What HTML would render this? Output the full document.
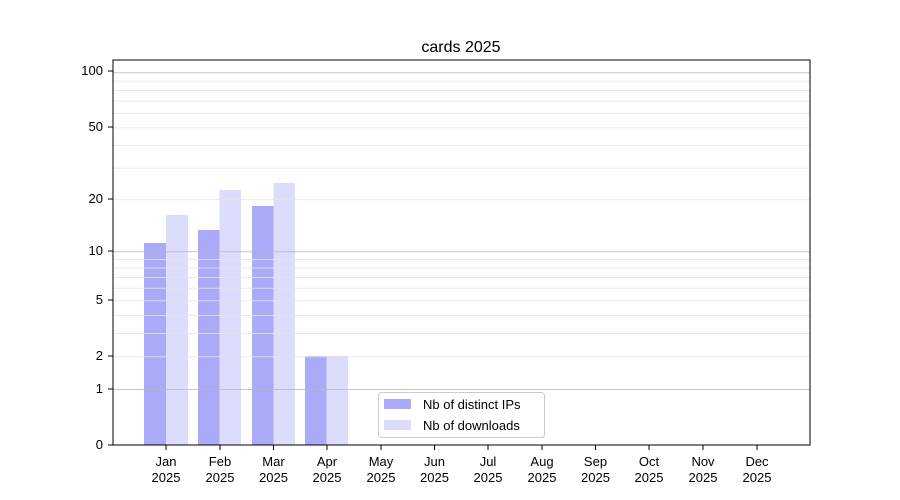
<!DOCTYPE html>
<html><head><style>body{margin:0;background:#fff}svg{display:block;font-family:"Liberation Sans","DejaVu Sans",sans-serif}</style></head><body>
<svg id="s" width="900" height="500" xmlns="http://www.w3.org/2000/svg">
<rect width="900" height="500" fill="#fff"/>
<g fill="#aaaaf9">
<rect x="144" y="243" width="22" height="202"/>
<rect x="198" y="230" width="21.5" height="215"/>
<rect x="252" y="206" width="21.5" height="239"/>
<rect x="305" y="356" width="21.5" height="89"/>
</g>
<g fill="#dcdcfd">
<rect x="166" y="215" width="22" height="230"/>
<rect x="219.5" y="190" width="21.5" height="255"/>
<rect x="273.5" y="183" width="21.5" height="262"/>
<rect x="326.5" y="356" width="21.5" height="89"/>
</g>
<g id="grid" opacity="0.8"></g>
<rect x="113" y="60" width="697" height="385" fill="none" stroke="#000" stroke-width="1"/>
<text x="461" y="52" font-size="16" text-anchor="middle">cards 2025</text>
<g font-size="13" text-anchor="end">
<text x="103" y="449">0</text><text x="103" y="393">1</text><text x="103" y="360">2</text>
<text x="103" y="304">5</text><text x="103" y="255">10</text><text x="103" y="203">20</text>
<text x="103" y="131">50</text><text x="103" y="75">100</text>
</g>
<g stroke="#000"><line x1="108" x2="113" y1="445" y2="445"/><line x1="108" x2="113" y1="389" y2="389"/><line x1="108" x2="113" y1="356" y2="356"/><line x1="108" x2="113" y1="300" y2="300"/><line x1="108" x2="113" y1="251" y2="251"/><line x1="108" x2="113" y1="199" y2="199"/><line x1="108" x2="113" y1="127" y2="127"/><line x1="108" x2="113" y1="71" y2="71"/></g>
<g id="xt" font-size="13" text-anchor="middle">
<text x="166" y="466">Jan</text><text x="166" y="482">2025</text>
<text x="220" y="466">Feb</text><text x="220" y="482">2025</text>
<text x="273.5" y="466">Mar</text><text x="273.5" y="482">2025</text>
<text x="327" y="466">Apr</text><text x="327" y="482">2025</text>
<text x="381" y="466">May</text><text x="381" y="482">2025</text>
<text x="434.5" y="466">Jun</text><text x="434.5" y="482">2025</text>
<text x="488" y="466">Jul</text><text x="488" y="482">2025</text>
<text x="542" y="466">Aug</text><text x="542" y="482">2025</text>
<text x="595.5" y="466">Sep</text><text x="595.5" y="482">2025</text>
<text x="649" y="466">Oct</text><text x="649" y="482">2025</text>
<text x="703" y="466">Nov</text><text x="703" y="482">2025</text>
<text x="757" y="466">Dec</text><text x="757" y="482">2025</text>
</g>
<g id="xtk" stroke="#000"></g>
<rect x="378.5" y="392.5" width="166" height="45" rx="3" fill="#fff" fill-opacity="0.8" stroke="#ccc"/>
<rect x="384" y="399" width="27" height="10" fill="#aaaaf9"/>
<rect x="384" y="420" width="27" height="10" fill="#dcdcfd"/>
<g font-size="13"><text x="423" y="409">Nb of distinct IPs</text><text x="423" y="430">Nb of downloads</text></g>
</svg>
<script>
var ns="http://www.w3.org/2000/svg",g=document.getElementById('grid');
function Y(v){return 445-186*Math.log10(1+v);}
function L(y,c,p,x1,x2){var l=document.createElementNS(ns,'line');l.setAttribute('x1',x1);l.setAttribute('x2',x2);l.setAttribute('y1',y);l.setAttribute('y2',y);l.setAttribute('stroke',c);p.appendChild(l);}
var vals=[2,3,4,5,6,7,8,9,20,30,40,50,60,70,80,90];
vals.forEach(function(v){L(Y(v)+0.5,'#e6e6e6',g,113,810);});
[1,10,100].forEach(function(v){L(Y(v)+0.5,'#b8b8b8',g,113,810);});
var t=document.getElementById('xtk');
[166,220,273.5,327,381,434.5,488,542,595.5,649,703,757].forEach(function(x){var l=document.createElementNS(ns,'line');l.setAttribute('x1',x);l.setAttribute('x2',x);l.setAttribute('y1',445);l.setAttribute('y2',450);t.appendChild(l);});
</script>
</body></html>
